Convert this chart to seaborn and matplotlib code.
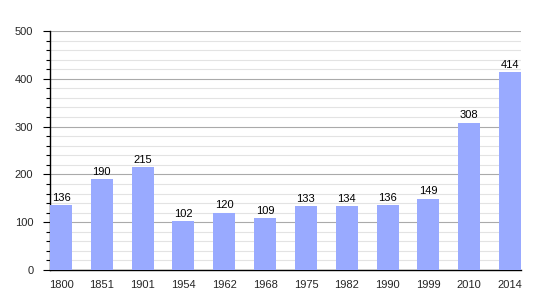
import matplotlib
matplotlib.use("Agg")
import matplotlib.pyplot as plt
import seaborn as sns
import pandas as pd
from matplotlib.ticker import MultipleLocator

years = ["1800", "1851", "1901", "1954", "1962", "1968", "1975", "1982", "1990", "1999", "2010", "2014"]
population = [136, 190, 215, 102, 120, 109, 133, 134, 136, 149, 308, 414]

sns.set_theme(style="white")
plt.rcParams['font.family'] = ['Liberation Sans', 'DejaVu Sans']

df = pd.DataFrame({"year": years, "pop": population})

fig = plt.figure(figsize=(5.5, 3), dpi=100)
ax = fig.add_axes([50/550, 30/300, 471/550, 239/300])

sns.barplot(data=df, x="year", y="pop", color="#99aaff", saturation=1, width=0.54,
            linewidth=0, edgecolor="none", ax=ax, zorder=3)

ax.set_ylim(0, 500)
ax.set_xlim(-0.27, len(years) - 1 + 0.27)
ax.yaxis.set_major_locator(MultipleLocator(100))
ax.yaxis.set_minor_locator(MultipleLocator(20))
ax.grid(which="major", axis="y", color="#aaaaaa", linewidth=0.8, zorder=0)
ax.grid(which="minor", axis="y", color="#e3e3e3", linewidth=0.8, zorder=0)
ax.set_axisbelow(True)

for s in ["top", "right"]:
    ax.spines[s].set_visible(False)
for s in ["left", "bottom"]:
    ax.spines[s].set_color("black")
    ax.spines[s].set_linewidth(1)

ax.tick_params(axis="y", which="major", left=True, length=5, width=0.8, color="black", labelsize=8, pad=7)
ax.tick_params(axis="y", which="minor", left=True, length=3, width=0.8, color="black")
ax.tick_params(axis="x", bottom=False, labelsize=8, pad=1.5)
ax.set_xlabel("")
ax.set_ylabel("")

for i, v in enumerate(population):
    ax.text(i, v + 5, str(v), ha="center", va="bottom", fontsize=8, color="black")

fig.savefig("out.png", dpi=100)
